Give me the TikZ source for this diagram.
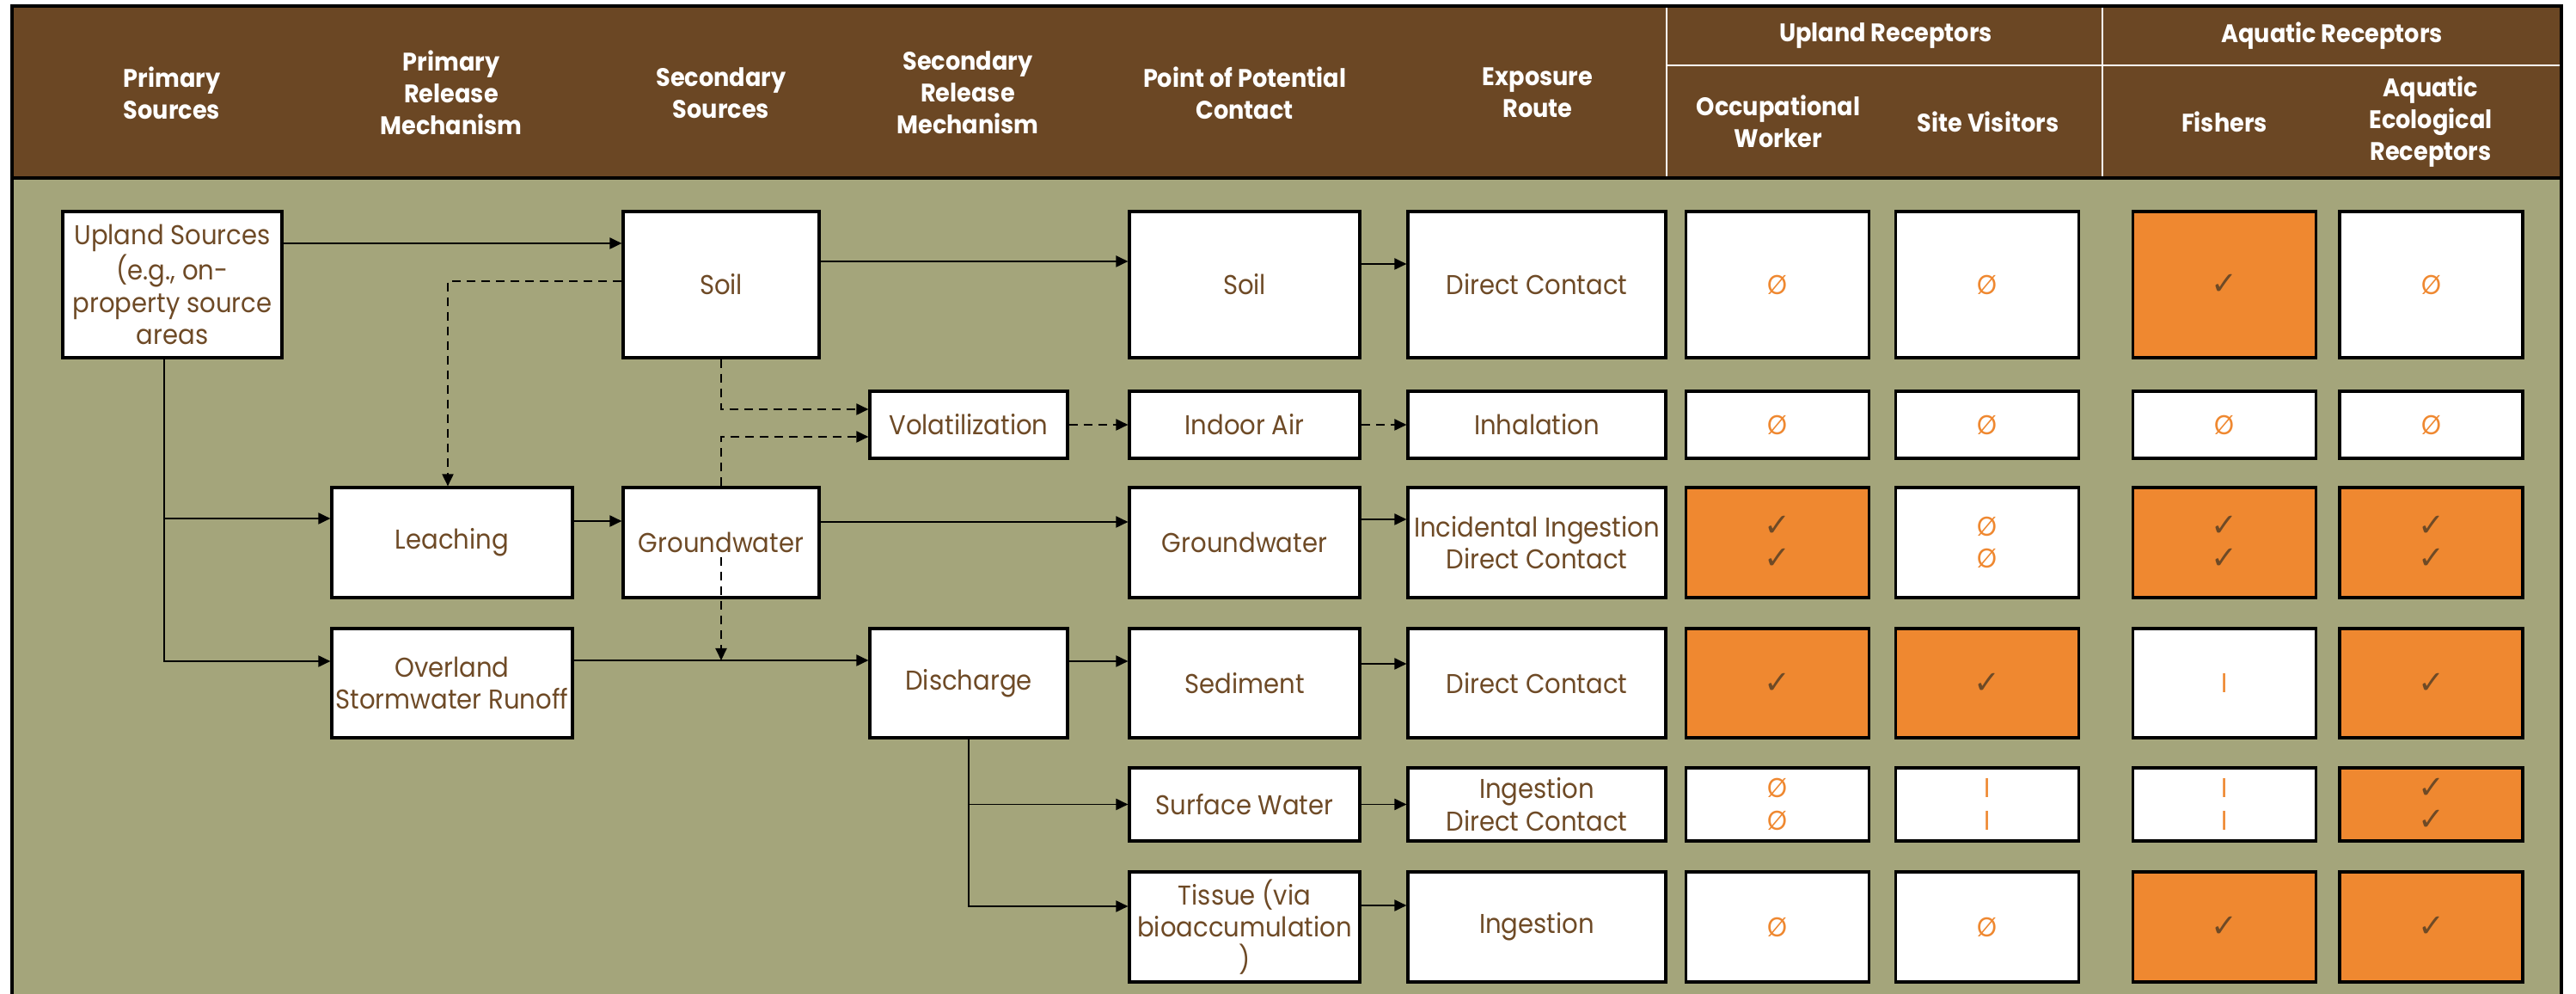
\documentclass[tikz,border=0pt]{standalone}
\usepackage{fontspec}
\setmainfont{Poppins}[FakeStretch=0.92]
\newfontfamily\symfont{DejaVu Sans}
\usetikzlibrary{arrows.meta}
\definecolor{hdrbrown}{HTML}{6B4724}
\definecolor{fieldgreen}{HTML}{A4A57B}
\definecolor{hitorange}{HTML}{EF8830}
\definecolor{inkbrown}{HTML}{6E4A26}
\newcommand{\nomark}{\textcolor{hitorange}{Ø}}
\newcommand{\yesmark}{{\symfont\fontsize{10.5}{10.6}\selectfont\textcolor{inkbrown}{✓}}}
\newcommand{\partmark}{\textcolor{hitorange}{I}}
\tikzset{
  box/.style={draw=black, line width=0.9pt, fill=white, text=inkbrown, align=center,
    inner sep=0pt, font=\fontsize{9}{10.6}\selectfont},
  hit/.style={box, fill=hitorange},
  cell/.style={minimum width=21.3mm},
  head/.style={text=white, align=center, font=\bfseries\fontsize{8.4}{10.5}\selectfont},
  flow/.style={line width=0.55pt, -{Triangle[length=1.4mm,width=1.3mm]}},
  dflow/.style={flow, dash pattern=on 1mm off 0.7mm},
  w1/.style={minimum width=25.5mm}, w2/.style={minimum width=28mm},
  w3/.style={minimum width=22.8mm}, w4/.style={minimum width=23mm},
  w5/.style={minimum width=26.8mm}, w6/.style={minimum width=30mm},
  r1/.style={minimum height=17mm}, r2/.style={minimum height=7.8mm},
  r3/.style={minimum height=12.8mm}, r4/.style={minimum height=12.7mm},
  r5/.style={minimum height=8.5mm}, r6/.style={minimum height=12.8mm}
}
\begin{document}
\begin{tikzpicture}
\useasboundingbox (0,0) rectangle (29.97,-11.56);
\fill[fieldgreen] (0.14,-0.07) rectangle (29.80,-11.70);
\fill[hdrbrown] (0.14,-0.07) rectangle (29.80,-2.07);
\draw[white, line width=0.6pt] (19.39,-0.07) -- (19.39,-2.07);
\draw[white, line width=0.6pt] (24.46,-0.07) -- (24.46,-2.07);
\draw[white, line width=0.6pt] (19.39,-0.76) -- (29.80,-0.76);
\draw[line width=1pt] (0.14,-2.07) -- (29.80,-2.07);
\draw[line width=1pt] (0.14,-11.70) rectangle (29.80,-0.07);
% header
\node[head] (hpsrc) at (2.0,-1.08) {Primary\\Sources};
\node[head] (hprel) at (5.25,-1.08) {Primary\\Release\\Mechanism};
\node[head] (hssrc) at (8.39,-1.08) {Secondary\\Sources};
\node[head] (hsrel) at (11.26,-1.08) {Secondary\\Release\\Mechanism};
\node[head] (hpoint) at (14.48,-1.08) {Point of Potential\\Contact};
\node[head] (hroute) at (17.89,-1.08) {Exposure\\Route};
\node[head] (hupland) at (21.94,-0.42) {Upland Receptors};
\node[head] (haquatic) at (27.13,-0.42) {Aquatic Receptors};
\node[head] (hworker) at (20.69,-1.41) {Occupational\\Worker};
\node[head] (hvisit) at (23.13,-1.42) {Site Visitors};
\node[head] (hfish) at (25.88,-1.42) {Fishers};
\node[head] (heco) at (28.28,-1.42) {Aquatic\\Ecological\\Receptors};
% pathway boxes
\node[box,w1,r1] (upland) at (2.005,-3.31) {Upland Sources\\(e.g., on-\\property source\\areas};
\node[box,w3,r1] (soilsec) at (8.39,-3.31) {Soil};
\node[box,w5,r1] (soilpt) at (14.48,-3.31) {Soil};
\node[box,w6,r1] (soildc) at (17.88,-3.31) {Direct Contact};
\node[box,w4,r2] (volat) at (11.27,-4.94) {Volatilization};
\node[box,w5,r2] (indoor) at (14.48,-4.94) {Indoor Air};
\node[box,w6,r2] (inhal) at (17.88,-4.94) {Inhalation};
\node[box,w2,r3] (leach) at (5.26,-6.31) {Leaching};
\node[box,w3,r3] (gwsec) at (8.39,-6.31) {Groundwater};
\node[box,w5,r3] (gwpt) at (14.48,-6.31) {Groundwater};
\node[box,w6,r3] (gwexp) at (17.88,-6.31) {Incidental Ingestion\\Direct Contact};
\node[box,w2,r4] (overland) at (5.26,-7.945) {Overland\\Stormwater Runoff};
\node[box,w4,r4] (disch) at (11.27,-7.945) {Discharge};
\node[box,w5,r4] (sed) at (14.48,-7.945) {Sediment};
\node[box,w6,r4] (seddc) at (17.88,-7.945) {Direct Contact};
\node[box,w5,r5] (surf) at (14.48,-9.355) {Surface Water};
\node[box,w6,r5] (surfexp) at (17.88,-9.355) {Ingestion\\Direct Contact};
\node[box,w5,r6] (tissue) at (14.48,-10.78) {Tissue (via\\bioaccumulation\\)};
\node[box,w6,r6] (tisexp) at (17.88,-10.78) {Ingestion};
% receptor cells
\foreach \x/\k/\s [count=\i] in {20.68/box/\nomark, 23.12/box/\nomark, 25.88/hit/\yesmark, 28.285/box/\nomark}
  \node[\k,cell,r1] (soilrc\i) at (\x,-3.31) {\s};
\foreach \x/\k/\s [count=\i] in {20.68/box/\nomark, 23.12/box/\nomark, 25.88/box/\nomark, 28.285/box/\nomark}
  \node[\k,cell,r2] (airrc\i) at (\x,-4.94) {\s};
\foreach \x/\k/\s [count=\i] in {20.68/hit/\yesmark\\\yesmark, 23.12/box/\nomark\\\nomark, 25.88/hit/\yesmark\\\yesmark, 28.285/hit/\yesmark\\\yesmark}
  \node[\k,cell,r3] (gwrc\i) at (\x,-6.31) {\s};
\foreach \x/\k/\s [count=\i] in {20.68/hit/\yesmark, 23.12/hit/\yesmark, 25.88/box/\partmark, 28.285/hit/\yesmark}
  \node[\k,cell,r4] (sedrc\i) at (\x,-7.945) {\s};
\foreach \x/\k/\s [count=\i] in {20.68/box/\nomark\\\nomark, 23.12/box/\partmark\\\partmark, 25.88/box/\partmark\\\partmark, 28.285/hit/\yesmark\\\yesmark}
  \node[\k,cell,r5] (surfrc\i) at (\x,-9.355) {\s};
\foreach \x/\k/\s [count=\i] in {20.68/box/\nomark, 23.12/box/\nomark, 25.88/hit/\yesmark, 28.285/hit/\yesmark}
  \node[\k,cell,r6] (tisrc\i) at (\x,-10.78) {\s};
% connectors
\draw[flow] ([yshift=4.8mm]upland.east) -- ([yshift=4.8mm]soilsec.west);
\draw[flow] ([yshift=2.7mm]soilsec.east) -- ([yshift=2.7mm]soilpt.west);
\draw[flow] ([yshift=2.4mm]soilpt.east) -- ([yshift=2.4mm]soildc.west);
\draw[dflow] ([yshift=0.4mm]soilsec.west) -| ([xshift=-0.5mm]leach.north);
\coordinate (trunk) at ([xshift=-0.95mm]upland.south);
\coordinate (leachin) at ([yshift=2.8mm]leach.west);
\coordinate (runin) at ([yshift=2.55mm]overland.west);
\draw[flow] (trunk) |- (runin);
\draw[flow] (trunk |- leachin) -- (leachin);
\draw[flow] ([yshift=2.5mm]leach.east) -- ([yshift=2.5mm]gwsec.west);
\draw[flow] ([yshift=2.4mm]gwsec.east) -- ([yshift=2.4mm]gwpt.west);
\draw[flow] ([yshift=2.7mm]gwpt.east) -- ([yshift=2.7mm]gwexp.west);
\draw[dflow] (soilsec.south) |- ([yshift=1.8mm]volat.west);
\draw[dflow] (gwsec.north) |- ([yshift=-1.4mm]volat.west);
\draw[dflow] (volat) -- (indoor);
\draw[dflow] (indoor) -- (inhal);
\coordinate (runout) at ([yshift=2.65mm]overland.east);
\draw[flow] (runout) -- (runout -| disch.west);
\draw[dflow] ([yshift=-1.7mm]gwsec.center) -- (gwsec.center |- runout);
\draw[flow] ([yshift=2.55mm]disch.east) -- ([yshift=2.55mm]sed.west);
\draw[flow] ([yshift=2.25mm]sed.east) -- ([yshift=2.25mm]seddc.west);
\draw[flow] (disch.south) |- ([yshift=2.4mm]tissue.west);
\draw[flow] (disch.south |- surf.west) -- (surf.west);
\draw[flow] (surf) -- (surfexp);
\draw[flow] ([yshift=2.5mm]tissue.east) -- ([yshift=2.5mm]tisexp.west);
\end{tikzpicture}
\end{document}
